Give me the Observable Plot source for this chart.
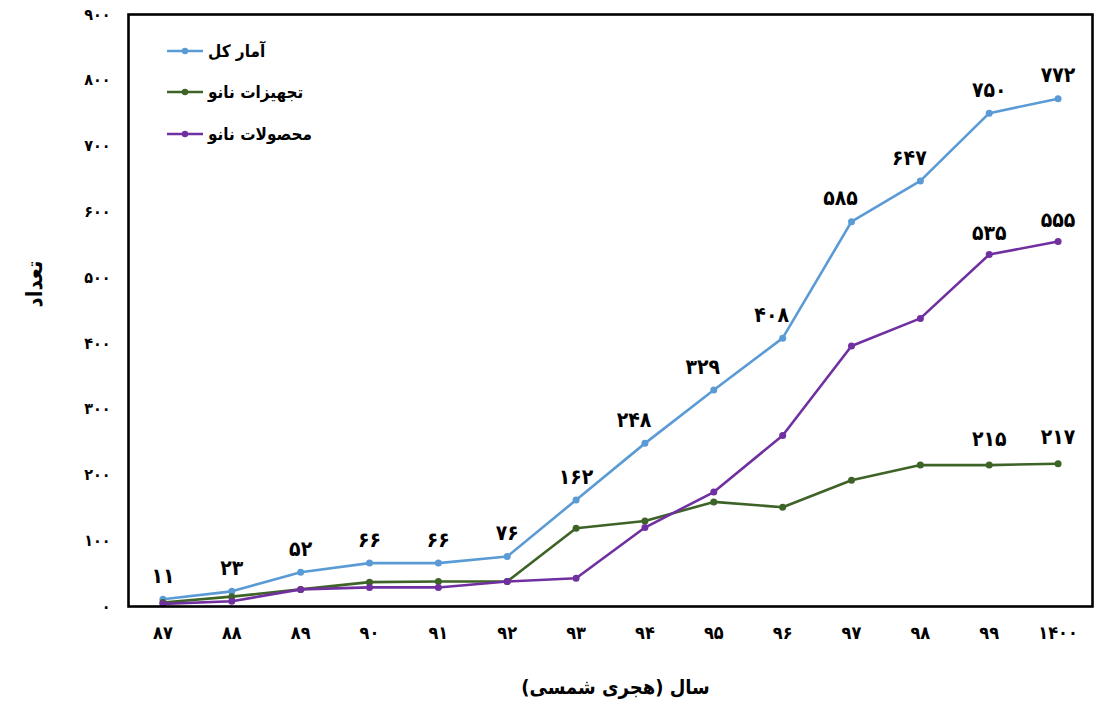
<!DOCTYPE html>
<html>
<head>
<meta charset="utf-8">
<script src="https://cdn.jsdelivr.net/npm/d3@7"></script>
<script src="https://cdn.jsdelivr.net/npm/@observablehq/plot@0.6"></script>
<style>
  html, body { margin: 0; padding: 0; background: #fff; }
  #wrap { position: relative; width: 1117px; height: 727px; }
  #legend { position: absolute; left: 166px; top: 30px; font-family: "DejaVu Sans Condensed", "DejaVu Sans", sans-serif; font-weight: bold; font-size: 17px; color: #000; }
  .row { display: flex; align-items: center; height: 41.5px; }
  .row svg { margin-right: 4px; }
</style>
</head>
<body>
<div id="wrap"></div>
<script>
const years = ["۸۷","۸۸","۸۹","۹۰","۹۱","۹۲","۹۳","۹۴","۹۵","۹۶","۹۷","۹۸","۹۹","۱۴۰۰"];
const total    = [11, 23, 52, 66, 66, 76, 162, 248, 329, 408, 585, 647, 750, 772];
const devices  = [6, 15, 26, 37, 38, 38, 119, 130, 159, 151, 192, 215, 215, 217];
const products = [4, 8, 26, 29, 29, 38, 43, 120, 174, 260, 396, 438, 535, 555];
const seriesNames = ["آمار کل", "تجهیزات نانو", "محصولات نانو"];
const seriesColors = ["#5B9BD5", "#3E6327", "#7030A0"];
const yTicks = [0, 100, 200, 300, 400, 500, 600, 700, 800, 900];
const yTickLabels = ["۰","۱۰۰","۲۰۰","۳۰۰","۴۰۰","۵۰۰","۶۰۰","۷۰۰","۸۰۰","۹۰۰"];
const xTitle = "\u200Fسال (هجری شمسی)\u200F";
const yTitle = "تعداد";

const fa = n => String(n).replace(/\d/g, d => "۰۱۲۳۴۵۶۷۸۹"[d]);
const font = "'DejaVu Sans Condensed', 'DejaVu Sans', sans-serif";

const rows = (vals, s) => years.map((y, i) => ({year: y, value: vals[i], series: s, i}));
const tRows = rows(total, 0), dRows = rows(devices, 1), pRows = rows(products, 2);

const lineMarks = [tRows, dRows, pRows].flatMap((data, k) => [
  Plot.line(data, {x: "year", y: "value", stroke: seriesColors[k], strokeWidth: 2.6}),
  Plot.dot(data, {x: "year", y: "value", fill: seriesColors[k], r: 3.5})
]);

const lab = {x: "year", y: "value", text: d => fa(d.value), fill: "#000", fontSize: 21, fontWeight: "bold", dy: -23};

const chart = Plot.plot({
  width: 1117,
  height: 727,
  marginLeft: 128,
  marginRight: 25,
  marginTop: 14,
  marginBottom: 121,
  x: {type: "point", domain: years, padding: 0.5, round: false},
  y: {domain: [0, 900]},
  style: {fontFamily: font, fontWeight: "bold", color: "#000", background: "#fff"},
  marks: [
    Plot.axisX({tickSize: 0, tickPadding: 20, fontSize: 18, label: null}),
    Plot.axisY({ticks: yTicks, tickFormat: (d) => yTickLabels[yTicks.indexOf(d)], tickSize: 0, tickPadding: 18, fontSize: 16, label: null}),
    Plot.text([yTitle], {frameAnchor: "left", dx: -94, dy: -3, rotate: -90, fontSize: 22, fontWeight: "bold", fill: "#000"}),
    Plot.text([xTitle], {frameAnchor: "bottom", dx: 5, dy: 87, fontSize: 20, fontWeight: "bold", fill: "#000"}),
    ...lineMarks,
    Plot.text(tRows.filter(d => d.i < 7 || d.i > 11), lab),
    Plot.text(tRows.filter(d => d.i >= 7 && d.i <= 11), {...lab, dx: -11}),
    Plot.text(dRows.filter(d => d.i >= 12), {...lab, dy: -26}),
    Plot.text(pRows.filter(d => d.i >= 12), {...lab, dy: -21}),
    Plot.frame({stroke: "#000", strokeWidth: 2.6})
  ]
});

const wrap = document.getElementById("wrap");
wrap.appendChild(chart);

const legend = document.createElement("div");
legend.id = "legend";
seriesNames.forEach((name, k) => {
  const row = document.createElement("div");
  row.className = "row";
  row.innerHTML = `<svg width="38" height="10"><line x1="1" y1="5" x2="37" y2="5" stroke="${seriesColors[k]}" stroke-width="2.6"/><circle cx="19" cy="5" r="3.2" fill="${seriesColors[k]}"/></svg><span dir="rtl">${name}</span>`;
  legend.appendChild(row);
});
wrap.appendChild(legend);
</script>
</body>
</html>
